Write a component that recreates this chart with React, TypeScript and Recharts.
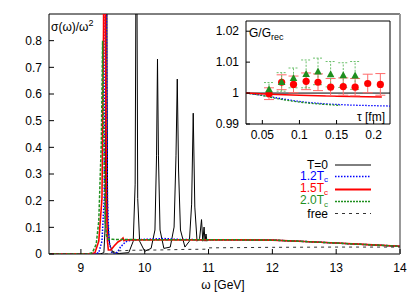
import { LineChart, ComposedChart, Line, Scatter, ErrorBar, XAxis, YAxis, ReferenceArea, ReferenceLine } from "recharts";

const FONT = "'Liberation Sans', Arial, Helvetica, sans-serif";

// main panel: spectral functions
const omegaTicks = [9, 10, 11, 12, 13, 14];
const sigmaTicks = [0, 0.1, 0.2, 0.3, 0.4, 0.5, 0.6, 0.7, 0.8];

const omegaT0 = [8.5, 9.3, 9.36, 9.38, 9.39, 9.4, 9.41, 9.42, 9.45, 9.5, 9.6, 9.75, 9.82, 9.85, 9.862, 9.87, 9.878, 9.89, 9.92, 10.0, 10.1, 10.16, 10.185, 10.2, 10.215, 10.24, 10.3, 10.4, 10.46, 10.49, 10.51, 10.53, 10.56, 10.63, 10.7, 10.735, 10.76, 10.785, 10.82, 10.86, 10.89, 10.91, 10.93, 10.945, 10.96, 10.975, 11.0, 11.5, 12, 12.5, 13, 13.5, 14];
const sigmaT0 = [0, 0, 0.005, 0.1, 0.635, 2.5, 0.635, 0.123, 0.037, 0.005, 0.002, 0.005, 0.048, 0.262, 1.0, 2.5, 1.0, 0.208, 0.048, 0.01, 0.021, 0.09, 0.368, 0.731, 0.368, 0.09, 0.021, 0.026, 0.101, 0.368, 0.656, 0.315, 0.09, 0.026, 0.048, 0.187, 0.528, 0.176, 0.048, 0.059, 0.129, 0.048, 0.101, 0.048, 0.075, 0.048, 0.054, 0.053, 0.052, 0.047, 0.041, 0.035, 0.029];

const omega12 = [8.5, 9.2, 9.28, 9.33, 9.365, 9.38, 9.39, 9.4, 9.415, 9.44, 9.48, 9.52, 9.57, 9.62, 9.7, 9.8, 10.0, 10.3, 10.5, 11.0, 11.5, 12, 12.5, 13, 13.5, 14];
const sigma12 = [0, 0, 0.005, 0.048, 0.208, 0.85, 3, 0.85, 0.208, 0.048, 0.007, 0, 0.007, 0.026, 0.046, 0.053, 0.055, 0.058, 0.055, 0.053, 0.053, 0.052, 0.047, 0.041, 0.035, 0.029];

const omega15 = [8.5, 9.15, 9.22, 9.28, 9.33, 9.355, 9.37, 9.385, 9.4, 9.415, 9.43, 9.47, 9.52, 9.58, 9.63, 9.66, 9.675, 9.7, 10.0, 10.5, 11.0, 11.5, 12, 12.5, 13, 13.5, 14];
const sigma15 = [0, 0, 0.005, 0.048, 0.208, 0.85, 3, 0.85, 0.2, 0.05, 0.015, 0.015, 0.03, 0.045, 0.052, 0.06, 0.05, 0.053, 0.053, 0.053, 0.053, 0.053, 0.052, 0.047, 0.041, 0.035, 0.029];

const omega20 = [8.5, 9.1, 9.18, 9.24, 9.28, 9.32, 9.34, 9.36, 9.38, 9.4, 9.42, 9.5, 9.6, 9.8, 10.5, 11.0, 11.5, 12, 12.5, 13, 13.5, 14];
const sigma20 = [0, 0, 0.005, 0.037, 0.123, 0.42, 0.8, 0.42, 0.123, 0.07, 0.056, 0.055, 0.054, 0.054, 0.053, 0.053, 0.053, 0.052, 0.047, 0.041, 0.035, 0.029];

const omegaFree = [8.5, 9.42, 9.45, 9.5, 9.6, 9.8, 10.2, 10.6, 10.95, 11.0, 12, 13, 14];
const sigmaFree = [0, 0, 0.005, 0.009, 0.012, 0.014, 0.015, 0.017, 0.018, 0.023, 0.025, 0.026, 0.026];

// inset: G/G_rec vs tau
const tauTicks = [0.05, 0.1, 0.15, 0.2];
const ratioTicks = [0.99, 1, 1.01, 1.02];

const tauLineT0 = [0.028, 0.222];
const ratioLineT0 = [1, 1];
const tauLine12 = [0.028, 0.05, 0.07, 0.09, 0.11, 0.135, 0.17, 0.222];
const ratioLine12 = [1.0, 0.9993, 0.9984, 0.9976, 0.997, 0.9965, 0.9961, 0.9958];
const tauLine15 = [0.028, 0.06, 0.1, 0.15, 0.211];
const ratioLine15 = [1.0, 0.9996, 0.9993, 0.999, 0.9987];
const tauLine20 = [0.028, 0.05, 0.07, 0.09, 0.11, 0.13, 0.155];
const ratioLine20 = [1.0, 0.9992, 0.9982, 0.9974, 0.9968, 0.9964, 0.996];

const tauPts15 = [0.059, 0.076, 0.092, 0.109, 0.125, 0.142, 0.159, 0.175, 0.192, 0.209];
const ratioPts15 = [0.9998, 1.0035, 1.0028, 1.0038, 1.0035, 1.0019, 1.0021, 1.0019, 1.0031, 1.0028];
const errPts15 = [0.0019, 0.0024, 0.0027, 0.0027, 0.0027, 0.0028, 0.0028, 0.0028, 0.003, 0.0035];

const tauPts20 = [0.059, 0.076, 0.092, 0.109, 0.125, 0.142, 0.159, 0.175];
const ratioPts20 = [1.0012, 1.0036, 1.0049, 1.0062, 1.007, 1.0061, 1.0058, 1.0057];
const errPts20 = [0.0022, 0.003, 0.0032, 0.0045, 0.0043, 0.0041, 0.004, 0.0045];

const BLUE = "#0000ff";
const RED = "#ff0000";
const GREEN = "#1f8f1f";

const pts = (xs: number[], ys: number[]) => xs.map((x, i) => ({ x, y: ys[i] }));
const errPts = (xs: number[], ys: number[], es: number[]) => xs.map((x, i) => ({ x, y: ys[i], err: es[i] }));

const tickStyle = { fontSize: 12, fill: "#000", fontFamily: FONT };

export default function App() {
	return (
		<div style={{ position: "absolute", left: 0, top: 0, width: 420, height: 294, background: "#fff", fontFamily: FONT }}>
			<LineChart width={420} height={294} margin={{ top: 14, right: 20, bottom: 10, left: 0 }}>
				<XAxis
					type="number"
					dataKey="x"
					domain={[8.5, 14]}
					ticks={omegaTicks}
					interval={0}
					allowDataOverflow
					height={30}
					axisLine={false}
					tickSize={-5}
					tickMargin={14}
					tickLine={{ stroke: "#000" }}
					tick={tickStyle}
				/>
				<YAxis
					type="number"
					domain={[0, 0.9]}
					ticks={sigmaTicks}
					interval={0}
					allowDataOverflow
					width={49}
					axisLine={false}
					tickSize={-5}
					tickMargin={12}
					tickLine={{ stroke: "#000" }}
					tick={tickStyle}
					tickFormatter={(v: number) => String(v)}
				/>
				<ReferenceArea x1={8.5} x2={14} y1={0} y2={0.9} fill="none" stroke="#000" strokeWidth={1} />
				<ReferenceLine x={14} stroke="#999" strokeWidth={2} />
				<Line data={pts(omegaT0, sigmaT0)} dataKey="y" type="linear" stroke="#000" strokeWidth={1} dot={false} isAnimationActive={false} />
				<Line data={pts(omega12, sigma12)} dataKey="y" type="linear" stroke={BLUE} strokeWidth={1.5} strokeDasharray="1.5 1.5" dot={false} isAnimationActive={false} />
				<Line data={pts(omega15, sigma15)} dataKey="y" type="linear" stroke={RED} strokeWidth={1.6} dot={false} isAnimationActive={false} />
				<Line data={pts(omega20, sigma20)} dataKey="y" type="linear" stroke={GREEN} strokeWidth={1.5} strokeDasharray="3 1.5" dot={false} isAnimationActive={false} />
				<Line data={pts(omegaFree, sigmaFree)} dataKey="y" type="linear" stroke="#333" strokeWidth={1} strokeDasharray="3 4" dot={false} isAnimationActive={false} />
			</LineChart>

			<div style={{ position: "absolute", left: 196, top: 16 }}>
				<ComposedChart width={199} height={128} margin={{ top: 5, right: 5, bottom: 0, left: 0 }}>
					<XAxis
						type="number"
						dataKey="x"
						domain={[0.028, 0.222]}
						ticks={tauTicks}
						interval={0}
						allowDataOverflow
						height={20}
						axisLine={false}
						tickSize={-4}
						tickMargin={10}
						tickLine={{ stroke: "#000" }}
						tick={tickStyle}
						tickFormatter={(v: number) => String(v)}
					/>
					<YAxis
						type="number"
						domain={[0.99, 1.0233]}
						ticks={ratioTicks}
						interval={0}
						allowDataOverflow
						width={50}
						axisLine={false}
						tickSize={-4}
						tickMargin={11}
						tickLine={{ stroke: "#000" }}
						tick={tickStyle}
						tickFormatter={(v: number) => String(v)}
					/>
					<ReferenceArea x1={0.028} x2={0.222} y1={0.99} y2={1.0233} fill="#fff" stroke="#000" strokeWidth={1} />
					<Line data={pts(tauLineT0, ratioLineT0)} dataKey="y" type="linear" stroke="#000" strokeWidth={1} dot={false} isAnimationActive={false} />
					<Line data={pts(tauLine12, ratioLine12)} dataKey="y" type="linear" stroke={BLUE} strokeWidth={1.3} strokeDasharray="1.5 1.5" dot={false} isAnimationActive={false} />
					<Line data={pts(tauLine20, ratioLine20)} dataKey="y" type="linear" stroke={GREEN} strokeWidth={1.3} strokeDasharray="2 1.5" dot={false} isAnimationActive={false} />
					<Line data={pts(tauLine15, ratioLine15)} dataKey="y" type="linear" stroke={RED} strokeWidth={1.5} dot={false} isAnimationActive={false} />
					<Scatter
						data={errPts(tauPts15, ratioPts15, errPts15)}
						dataKey="y"
						isAnimationActive={false}
						shape={(p: any) => <circle cx={p.cx} cy={p.cy} r={3.6} fill={RED} />}
					>
						<ErrorBar dataKey="err" direction="y" width={5} stroke="#ff6a6a" strokeWidth={1} isAnimationActive={false} />
					</Scatter>
					<Scatter
						data={errPts(tauPts20, ratioPts20, errPts20)}
						dataKey="y"
						isAnimationActive={false}
						shape={(p: any) => (
							<polygon points={`${p.cx},${p.cy - 4} ${p.cx - 3.8},${p.cy + 3} ${p.cx + 3.8},${p.cy + 3}`} fill={GREEN} />
						)}
					>
						<ErrorBar dataKey="err" direction="y" width={5} stroke="#6cc06c" strokeWidth={1} strokeDasharray="2 1.5" isAnimationActive={false} />
					</Scatter>
				</ComposedChart>
			</div>

			<svg width={420} height={294} style={{ position: "absolute", left: 0, top: 0, pointerEvents: "none" }} fontFamily={FONT}>
				<text x={51} y={31} fontSize={12} fill="#000">
					σ(ω)/ω<tspan dy={-5} fontSize={9}>2</tspan>
				</text>
				<text x={223} y={289} fontSize={12} fill="#000" textAnchor="middle">ω [GeV]</text>
				<text x={249} y={37} fontSize={12} fill="#000">
					G/G<tspan dy={3} fontSize={9}>rec</tspan>
				</text>
				<text x={385} y={121} fontSize={12} fill="#000" textAnchor="end">τ [fm]</text>

				<text x={328} y={169} fontSize={12} fill="#000" textAnchor="end">T=0</text>
				<line x1={335} x2={371} y1={165} y2={165} stroke="#000" strokeWidth={1} />
				<text x={328} y={179.5} fontSize={12} fill={BLUE} textAnchor="end">
					1.2T<tspan dy={2.5} fontSize={8}>c</tspan>
				</text>
				<line x1={335} x2={371} y1={176.5} y2={176.5} stroke={BLUE} strokeWidth={1.5} strokeDasharray="1.5 1.5" />
				<text x={328} y={192} fontSize={12} fill={RED} textAnchor="end">
					1.5T<tspan dy={2.5} fontSize={8}>c</tspan>
				</text>
				<line x1={335} x2={371} y1={189.5} y2={189.5} stroke={RED} strokeWidth={1.8} />
				<text x={328} y={204} fontSize={12} fill={GREEN} textAnchor="end">
					2.0T<tspan dy={2.5} fontSize={8}>c</tspan>
				</text>
				<line x1={335} x2={371} y1={201.5} y2={201.5} stroke={GREEN} strokeWidth={1.5} strokeDasharray="2 1" />
				<text x={328} y={217.5} fontSize={12} fill="#000" textAnchor="end">free</text>
				<line x1={335} x2={371} y1={213.5} y2={213.5} stroke="#333" strokeWidth={1} strokeDasharray="3 4" />
			</svg>
		</div>
	);
}
